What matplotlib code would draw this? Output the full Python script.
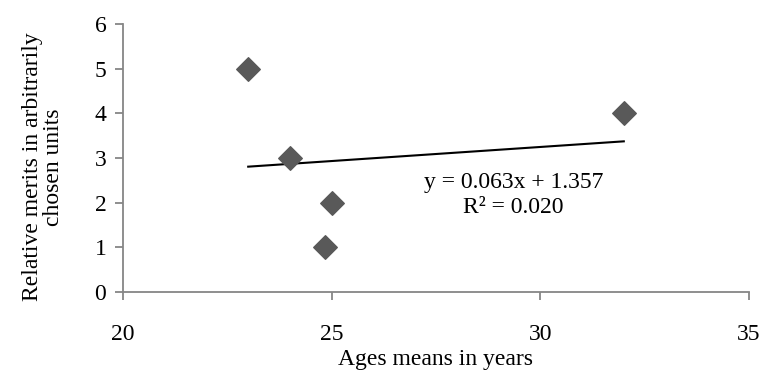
import numpy as np
import matplotlib.pyplot as plt

plt.rcParams['font.family'] = ['Liberation Serif', 'DejaVu Serif']

# data
ages = [23, 24, 24.85, 25, 32]
merits = [5, 3, 1, 2, 4]
slope = 0.063
intercept = 1.357
r2 = 0.020

fig = plt.figure(figsize=(7.62, 3.74), dpi=100)
ax = fig.add_axes([123/762, 1-292/374, 626/762, 268/374])

ax.scatter(ages, merits, marker='D', s=12**2, color='#595959', zorder=3)

xt = np.array([min(ages), max(ages)])
ax.plot(xt, slope*xt + intercept, color='black', lw=1.5, zorder=2)

ax.text(29.35, 2.17, f'y = {slope:.3f}x + {intercept:.3f}\nR² = {r2:.3f}',
        ha='center', va='center', fontsize=17, linespacing=1.2)

ax.set_xlim(20, 35)
ax.set_ylim(0, 6)
ax.set_xticks([20, 25, 30, 35])
ax.set_yticks(range(7))

for s in ['top', 'right']:
    ax.spines[s].set_visible(False)
for s in ['left', 'bottom']:
    ax.spines[s].set_color('#868686')
    ax.spines[s].set_linewidth(1.3)
ax.tick_params(axis='both', colors='#868686', length=6, width=1.3,
               labelcolor='black', labelsize=17)
ax.tick_params(axis='x', pad=17)
ax.tick_params(axis='y', pad=6)

ax.set_xlabel('Ages means in years', fontsize=17, labelpad=3)
ax.set_ylabel('Relative merits in arbitrarily\nchosen units', fontsize=17,
              linespacing=1.05)
ax.yaxis.set_label_coords(-0.0936, 0.466)

fig.savefig('out.png', dpi=100)
